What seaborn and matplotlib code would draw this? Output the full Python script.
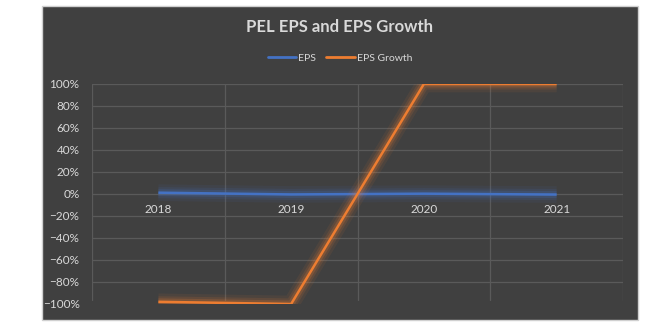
import matplotlib
matplotlib.use("Agg")
import matplotlib.pyplot as plt
import matplotlib.patheffects as pe
from matplotlib.patches import Rectangle
from matplotlib.ticker import PercentFormatter
from matplotlib.lines import Line2D
import seaborn as sns
import pandas as pd

years = ["2018", "2019", "2020", "2021"]
eps = [0.012, -0.004, 0.003, -0.005]
eps_growth = [-0.98, -1.0, 1.0, 1.0]
title = "PEL EPS and EPS Growth"
yticks = [-1.0, -0.8, -0.6, -0.4, -0.2, 0.0, 0.2, 0.4, 0.6, 0.8, 1.0]

sns.set_theme(style="white")
plt.rcParams['font.family'] = ['Lato', 'DejaVu Sans']

BG = "#404040"
TXT = "#d9d9d9"
GRID = "#5a5a5a"
BLUE = "#4472C4"
ORANGE = "#ED7D31"

W, H = 657, 331
fig = plt.figure(figsize=(W / 100, H / 100), dpi=100)
fig.patch.set_facecolor("white")
fig.patches.append(Rectangle((42 / W, (H - 320) / H), (638 - 42) / W, (320 - 6) / H,
                             transform=fig.transFigure, facecolor=BG,
                             edgecolor="#d0d0d0", linewidth=1, zorder=-10))

ax = fig.add_axes([92 / W, (H - 304) / H, (623 - 92) / W, (304 - 84) / H])
ax.patch.set_alpha(0)

df = pd.DataFrame({"Year": years * 2,
                   "Value": eps + eps_growth,
                   "Series": ["EPS"] * 4 + ["EPS Growth"] * 4})

glow = lambda c: [pe.Stroke(linewidth=12, foreground=c, alpha=0.08),
                  pe.Stroke(linewidth=8, foreground=c, alpha=0.12),
                  pe.Stroke(linewidth=5, foreground=c, alpha=0.2),
                  pe.Normal()]

sns.lineplot(data=df, x="Year", y="Value", hue="Series",
             palette={"EPS": BLUE, "EPS Growth": ORANGE},
             linewidth=1.8, ax=ax, legend=False, zorder=3)
for line, c in zip(ax.get_lines(), [BLUE, ORANGE]):
    line.set_path_effects(glow(c))
    line.set_solid_capstyle("butt")

ax.set_xlim(-0.5, 3.5)
ax.set_ylim(-1.0, 1.0)
ax.set_yticks(yticks)
ax.yaxis.set_major_formatter(PercentFormatter(1.0, decimals=0))

for y in yticks[1:]:
    ax.axhline(y, color=GRID, linewidth=0.9, zorder=1)
for x in [-0.5, 0.5, 1.5, 2.5, 3.5]:
    ax.plot([x, x], [-0.96, 1.0], color=GRID, linewidth=0.9, zorder=1)

for s in ["top", "right", "left"]:
    ax.spines[s].set_visible(False)
ax.spines["bottom"].set_position(("data", 0))
ax.spines["bottom"].set_visible(False)
ax.tick_params(axis="x", length=0, pad=7, labelsize=8.5, colors=TXT)
ax.tick_params(axis="y", length=0, pad=9, labelsize=8.5, colors=TXT)
ax.set_xlabel("")
ax.set_ylabel("")

fig.text(339 / W, 1 - 27 / H, title, ha="center", va="center",
         fontsize=12, fontweight="bold", color=TXT)

handles = [Line2D([], [], color=BLUE, linewidth=2), Line2D([], [], color=ORANGE, linewidth=2)]
fig.legend(handles, ["EPS", "EPS Growth"], loc="center",
           bbox_to_anchor=(340 / W, 1 - 58 / H), ncol=2, frameon=False,
           fontsize=7.5, labelcolor=TXT, handlelength=2.7, handletextpad=0.2,
           columnspacing=1.0)

fig.savefig("out.png", dpi=100, facecolor="white")
